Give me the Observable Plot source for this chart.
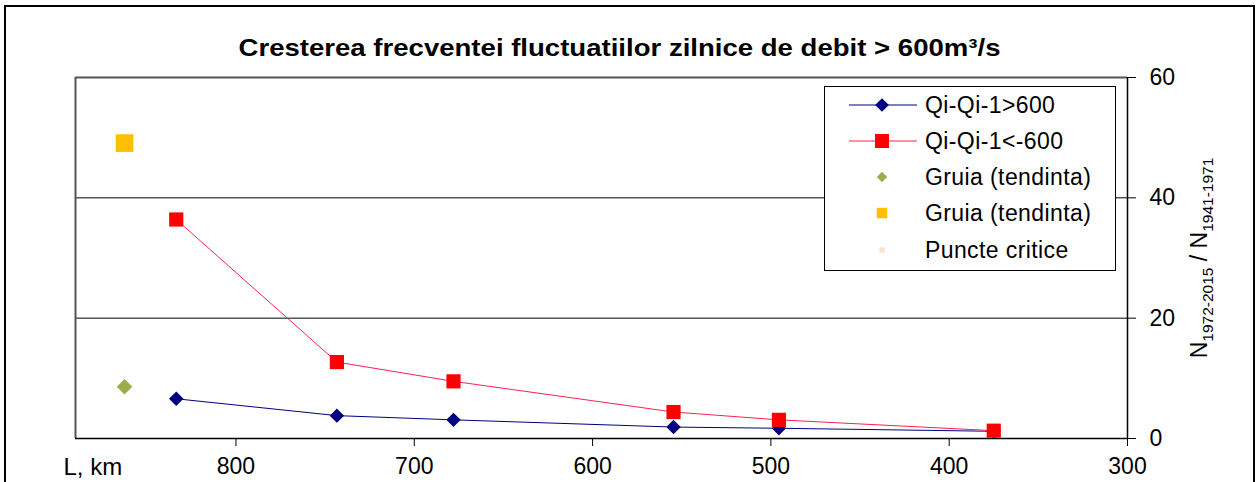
<!DOCTYPE html>
<html>
<head>
<meta charset="utf-8">
<script src="https://cdn.jsdelivr.net/npm/d3@7"></script>
<script src="https://cdn.jsdelivr.net/npm/@observablehq/plot@0.6"></script>
<style>
  html, body { margin: 0; padding: 0; background: #fff; }
  #chart svg { display: block; }
</style>
</head>
<body>
<div id="chart"></div>
<script>
// ---- data ----
const titleText = "Cresterea frecventei fluctuatiilor zilnice de debit > 600m³/s";
const xLabel = "L, km";
const distances = [833.5, 743.4, 678, 554.6, 495.5, 375];
const increases = [6.6, 3.8, 3.1, 1.9, 1.7, 1.2];      // Qi-Qi-1>600
const decreases = [36.4, 12.7, 9.5, 4.4, 3.1, 1.3];     // Qi-Qi-1<-600
const gruiaL = [862.5];
const gruiaGreen = [8.6];
const gruiaYellow = [49.1];
const xTicks = [800, 700, 600, 500, 400, 300];
const yTicks = [0, 20, 40, 60];
const gridValues = [20, 40];
const legendLabels = ["Qi-Qi-1>600", "Qi-Qi-1<-600", "Gruia (tendinta)", "Gruia (tendinta)", "Puncte critice"];

const colBlue = "#000080";
const colRed = "#ff0000";
const colRedLine = "#ff2050";
const colGreen = "#9aae4c";
const colYellow = "#ffc000";

const up = distances.map((d, i) => ({L: d, v: increases[i]}));
const down = distances.map((d, i) => ({L: d, v: decreases[i]}));
const green = gruiaL.map((d, i) => ({L: d, v: gruiaGreen[i]}));
const yellow = gruiaL.map((d, i) => ({L: d, v: gruiaYellow[i]}));

const font = "'Liberation Sans', Arial, sans-serif";

const chart = Plot.plot({
  width: 1257,
  height: 482,
  marginLeft: 75,
  marginRight: 130,
  marginTop: 77,
  marginBottom: 44,
  style: {fontFamily: font, fontSize: "22px", background: "#fff", color: "#000", overflow: "visible"},
  x: {domain: [890, 300]},
  y: {domain: [0, 60]},
  marks: [
    Plot.ruleY(gridValues, {stroke: "#000", strokeWidth: 1}),
    Plot.ruleY([60], {stroke: "#555", strokeWidth: 2}),
    Plot.ruleX([890], {stroke: "#555", strokeWidth: 2}),
    Plot.ruleY([0], {stroke: "#000", strokeWidth: 1.5}),
    Plot.ruleX([300], {stroke: "#000", strokeWidth: 1.5}),
    Plot.axisX({ticks: xTicks, tickSize: 8, tickPadding: 11, label: null, fontSize: 23}),
    Plot.axisY({anchor: "right", ticks: yTicks, tickSize: 8, tickPadding: 14, label: null, fontSize: 23}),
    Plot.line(up, {x: "L", y: "v", stroke: colBlue, strokeWidth: 1}),
    Plot.line(down, {x: "L", y: "v", stroke: colRedLine, strokeWidth: 1}),
    Plot.dot(up, {x: "L", y: "v", symbol: "diamond2", r: 6.5, fill: colBlue, stroke: "none"}),
    Plot.dot(down, {x: "L", y: "v", symbol: "square", r: 8, fill: colRed, stroke: "none"}),
    Plot.dot(green, {x: "L", y: "v", symbol: "diamond2", r: 7, fill: colGreen, stroke: "none"}),
    Plot.dot(yellow, {x: "L", y: "v", symbol: "square", r: 10, fill: colYellow, stroke: "none"}),
    Plot.text([titleText], {frameAnchor: "top", lineAnchor: "middle", dx: 18, dy: -29, fontWeight: "bold", fontSize: 24, className: "ttl"}),
    Plot.text([xLabel], {frameAnchor: "bottom-left", lineAnchor: "middle", dx: -12, dy: 29, textAnchor: "start", fontSize: 24})
  ]
});

document.getElementById("chart").appendChild(chart);

const svg = d3.select(chart);
// stretch title to the reference width
svg.selectAll(".ttl text").attr("textLength", 762).attr("lengthAdjust", "spacingAndGlyphs");

// outer frame
svg.append("rect")
  .attr("x", 5).attr("y", 6).attr("width", 1249).attr("height", 490)
  .attr("fill", "none").attr("stroke", "#000").attr("stroke-width", 2);

// right axis title
const yt = svg.append("text")
  .attr("transform", "translate(1207,258) rotate(-90)")
  .attr("text-anchor", "middle")
  .attr("font-family", font)
  .attr("font-size", 23);
yt.append("tspan").text("N");
yt.append("tspan").attr("font-size", 15.5).attr("dy", 6).text("1972-2015");
yt.append("tspan").attr("dy", -6).text(" / N");
yt.append("tspan").attr("font-size", 15.5).attr("dy", 6).text("1941-1971");

// legend
const lg = svg.append("g").attr("font-family", font).attr("font-size", 23).attr("text-anchor", "start");
lg.append("rect").attr("x", 824.5).attr("y", 86.5).attr("width", 291).attr("height", 184)
  .attr("fill", "#fff").attr("stroke", "#000").attr("stroke-width", 1);
const rowY = [105, 141, 177, 213, 250];
const mx = 882;
// row 0: blue
lg.append("line").attr("x1", 849).attr("x2", 917).attr("y1", rowY[0]).attr("y2", rowY[0]).attr("stroke", colBlue);
lg.append("path").attr("transform", `translate(${mx},${rowY[0]})`).attr("d", d3.symbol(d3.symbolDiamond2, 120)()).attr("fill", colBlue);
// row 1: red
lg.append("line").attr("x1", 849).attr("x2", 917).attr("y1", rowY[1]).attr("y2", rowY[1]).attr("stroke", colRedLine);
lg.append("path").attr("transform", `translate(${mx},${rowY[1]})`).attr("d", d3.symbol(d3.symbolSquare, 196)()).attr("fill", colRed);
// row 2: green
lg.append("path").attr("transform", `translate(${mx},${rowY[2]})`).attr("d", d3.symbol(d3.symbolDiamond2, 70)()).attr("fill", colGreen);
// row 3: yellow
lg.append("path").attr("transform", `translate(${mx},${rowY[3]})`).attr("d", d3.symbol(d3.symbolSquare, 110)()).attr("fill", colYellow);
// row 4: faint marker
lg.append("path").attr("transform", `translate(${mx},${rowY[4]})`).attr("d", d3.symbol(d3.symbolSquare, 30)()).attr("fill", "#fbe3cf");
legendLabels.forEach((t, i) => {
  lg.append("text").attr("x", 925).attr("y", rowY[i]).attr("dy", "0.35em")
    .attr("letter-spacing", "0.4px").text(t);
});
</script>
</body>
</html>
